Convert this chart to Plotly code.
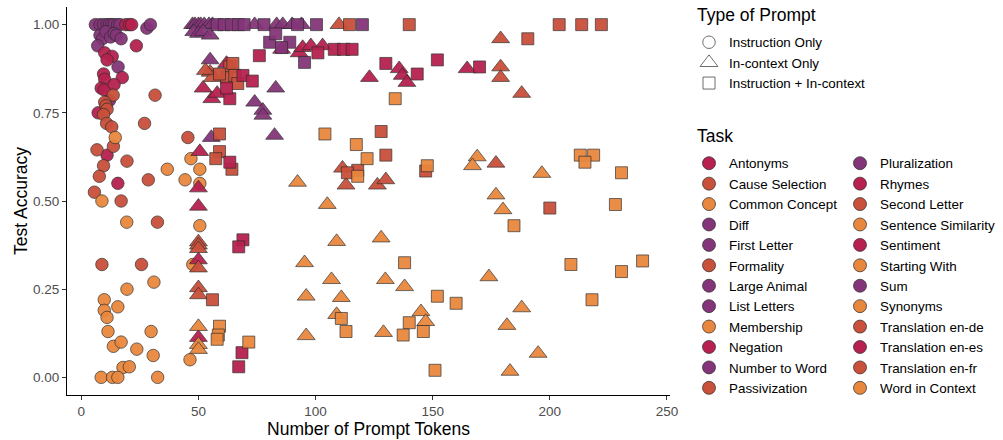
import plotly.graph_objects as go

# ---------------- data ----------------
task_names = ["Antonyms", "Cause Selection", "Common Concept", "Diff", "First Letter",
              "Formality", "Large Animal", "List Letters", "Membership", "Negation",
              "Number to Word", "Passivization", "Pluralization", "Rhymes", "Second Letter",
              "Sentence Similarity", "Sentiment", "Starting With", "Sum", "Synonyms",
              "Translation en-de", "Translation en-es", "Translation en-fr", "Word in Context"]

prompt_types = ["Instruction Only", "In-context Only", "Instruction + In-context"]

# Instruction Only
instr_tokens = [6, 8, 9.5, 11, 12, 13, 14, 15.5, 16.5, 28, 29.5,
                8, 9, 10.5, 12.5, 14, 15, 17, 7, 15.7, 12,
                19, 20.5, 21.5, 23.5, 10, 13.2, 11, 9.5, 17.5, 10, 8.5, 9.8, 14, 7.2, 11, 15.6,
                31.5, 13.6, 10, 10.5, 11, 9.5, 10.8, 13, 27, 13.7, 6.7, 9.5, 19.5, 7.7, 28.6, 5.6, 17, 8.8, 25.7, 32.5, 45.5,
                14.5, 36.7, 8.8, 19.4, 31, 19.5, 9.8, 9.8, 11, 15.6, 11.4, 29.8, 13.7, 17, 23.7, 30.7, 17.8, 20.5,
                8.5, 13.3, 15.6, 32.6, 46.4, 50.6, 50.6, 46.8, 44.3, 50.6, 47.6]
instr_acc = [1.00, 1.00, 1.00, 1.00, 1.00, 1.00, 1.00, 1.00, 1.00, 0.99, 1.00,
             0.97, 0.96, 0.98, 0.965, 0.975, 0.97, 0.96, 0.94, 0.88, 0.785,
             1.00, 1.00, 1.00, 0.94, 0.92, 0.91, 0.90, 0.86, 0.85, 0.845, 0.82, 0.815, 0.83, 0.75, 0.63, 0.55,
             0.80, 0.80, 0.78, 0.77, 0.76, 0.745, 0.72, 0.71, 0.72, 0.655, 0.645, 0.60, 0.613, 0.57, 0.56, 0.525, 0.50, 0.32, 0.32, 0.44, 0.68,
             0.68, 0.59, 0.50, 0.44, 0.27, 0.25, 0.22, 0.19, 0.17, 0.20, 0.13, 0.13, 0.088, 0.10, 0.08, 0.062, 0.028, 0.03,
             0.0, 0.0, 0.0, 0.0, 0.05, 0.59, 0.55, 0.62, 0.56, 0.43, 0.32]
instr_task = ["Diff", "First Letter", "Large Animal", "List Letters", "Number to Word", "Pluralization", "Sum", "Diff", "First Letter", "List Letters", "Large Animal",
              "Number to Word", "Pluralization", "Sum", "Diff", "First Letter", "Large Animal", "List Letters", "Number to Word", "Pluralization", "Sum",
              "Antonyms", "Negation", "Rhymes", "Sentiment", "Translation en-es", "Antonyms", "Negation", "Rhymes", "Sentiment", "Translation en-es", "Antonyms", "Negation", "Rhymes", "Sentiment", "Translation en-es", "Antonyms",
              "Cause Selection", "Formality", "Passivization", "Second Letter", "Translation en-de", "Translation en-fr", "Cause Selection", "Formality", "Passivization", "Second Letter", "Translation en-de", "Translation en-fr", "Cause Selection", "Formality", "Passivization", "Second Letter", "Translation en-de", "Translation en-fr", "Cause Selection", "Formality", "Passivization",
              "Common Concept", "Membership", "Sentence Similarity", "Starting With", "Synonyms", "Word in Context", "Common Concept", "Membership", "Sentence Similarity", "Starting With", "Synonyms", "Word in Context", "Common Concept", "Membership", "Sentence Similarity", "Starting With", "Synonyms", "Word in Context",
              "Common Concept", "Membership", "Sentence Similarity", "Starting With", "Synonyms", "Word in Context", "Common Concept", "Membership", "Sentence Similarity", "Starting With", "Synonyms"]

# In-context Only
ctx_tokens = [47.5, 48.5, 50, 51, 52.5, 54.5, 56, 48, 50, 52, 55, 74, 83.4, 86, 90, 94, 55, 83, 74, 77.5, 77.5, 82.5, 55.5,
              85.5, 93, 94.5, 98, 103, 123, 135.7, 137, 139, 164.7, 52, 55.7, 58, 62, 50.6, 50, 50, 50, 50,
              110, 179, 179, 179, 188, 55, 56, 53, 50, 50, 50, 50, 50, 50, 177, 111.5, 113, 126.4, 130,
              50, 50, 50, 92.3, 95.3, 105, 109, 106.8, 96, 111, 109, 96, 128, 129.8, 138, 129, 145, 147,
              180, 174, 188, 181.7, 195, 183, 169, 167, 196.6, 177]
ctx_acc = [1.0, 1.0, 1.0, 1.0, 1.0, 1.0, 1.0, 0.98, 0.975, 0.98, 0.97, 1.0, 1.0, 1.0, 1.0, 1.0, 0.90, 0.82, 0.78, 0.757, 0.743, 0.686, 0.68,
           0.93, 0.92, 0.935, 0.94, 0.94, 0.85, 0.875, 0.856, 0.836, 0.875, 0.82, 0.79, 0.805, 0.89, 0.64, 0.537, 0.485, 0.333, 0.113,
           1.0, 0.96, 0.88, 0.85, 0.805, 0.865, 0.85, 0.87, 0.384, 0.375, 0.365, 0.31, 0.254, 0.234, 0.607, 0.593, 0.545, 0.545, 0.56,
           0.144, 0.093, 0.079, 0.553, 0.325, 0.49, 0.385, 0.277, 0.23, 0.226, 0.178, 0.118, 0.395, 0.277, 0.257, 0.127, 0.186, 0.158,
           0.475, 0.285, 0.197, 0.147, 0.068, 0.017, 0.625, 0.60, 0.578, 0.517]
ctx_task = ["Diff", "First Letter", "Large Animal", "List Letters", "Number to Word", "Pluralization", "Sum", "Diff", "First Letter", "Large Animal", "List Letters", "Number to Word", "Pluralization", "Sum", "Diff", "First Letter", "Large Animal", "List Letters", "Number to Word", "Pluralization", "Sum", "Diff", "First Letter",
            "Antonyms", "Negation", "Rhymes", "Sentiment", "Translation en-es", "Antonyms", "Negation", "Rhymes", "Sentiment", "Translation en-es", "Antonyms", "Negation", "Rhymes", "Sentiment", "Translation en-es", "Antonyms", "Negation", "Rhymes", "Sentiment",
            "Cause Selection", "Formality", "Passivization", "Second Letter", "Translation en-de", "Translation en-fr", "Cause Selection", "Formality", "Passivization", "Second Letter", "Translation en-de", "Translation en-fr", "Cause Selection", "Formality", "Passivization", "Second Letter", "Translation en-de", "Translation en-fr", "Cause Selection",
            "Common Concept", "Membership", "Sentence Similarity", "Starting With", "Synonyms", "Word in Context", "Common Concept", "Membership", "Sentence Similarity", "Starting With", "Synonyms", "Word in Context", "Common Concept", "Membership", "Sentence Similarity", "Starting With", "Synonyms", "Word in Context",
            "Common Concept", "Membership", "Sentence Similarity", "Starting With", "Synonyms", "Word in Context", "Common Concept", "Membership", "Sentence Similarity", "Starting With"]

# Instruction + In-context
both_tokens = [58, 61, 64, 67, 69.5, 78, 92.3, 100.4, 120, 80.4, 89, 85.5, 95.3, 83,
               114.5, 140, 204, 213.6, 222, 190.6, 63.4, 64.7, 62, 65.5, 66.8, 59, 59, 59, 57.4, 64.3, 128, 130, 118, 113.6, 147, 200, 56,
               76, 101, 108, 112, 115.6, 130, 143.4, 152, 170, 69, 73, 63.4, 62, 63.4, 69, 67.2, 68.6, 67.2,
               134, 104, 117.4, 122, 118, 147.7, 213, 218.7, 215, 230.6, 228, 184.7, 209, 230.6, 239.6, 218, 152, 160,
               140, 146, 137.4, 151, 138, 111, 113, 59, 58.5, 58, 71.5]
both_acc = [1.0, 1.0, 1.0, 1.0, 1.0, 1.0, 1.0, 1.0, 1.0, 0.95, 0.95, 0.935, 0.893, 0.974,
            1.0, 1.0, 1.0, 1.0, 1.0, 0.96, 0.88, 0.89, 0.85, 0.856, 0.833, 0.86, 0.69, 0.64, 0.62, 0.59, 0.697, 0.63, 0.587, 0.58, 0.585, 0.48, 0.22,
            0.912, 0.92, 0.93, 0.93, 0.93, 0.89, 0.86, 0.90, 0.88, 0.856, 0.84, 0.79, 0.82, 0.61, 0.39, 0.37, 0.07, 0.03,
            0.79, 0.69, 0.66, 0.62, 0.57, 0.60, 0.63, 0.63, 0.61, 0.58, 0.49, 0.43, 0.32, 0.30, 0.33, 0.22, 0.23, 0.21,
            0.155, 0.13, 0.12, 0.02, 0.325, 0.167, 0.13, 0.145, 0.12, 0.108, 0.10]
both_task = ["Diff", "First Letter", "Large Animal", "List Letters", "Number to Word", "Pluralization", "Sum", "Diff", "First Letter", "Large Animal", "List Letters", "Number to Word", "Pluralization", "Sum",
             "Cause Selection", "Formality", "Passivization", "Second Letter", "Translation en-de", "Translation en-fr", "Cause Selection", "Formality", "Passivization", "Second Letter", "Translation en-de", "Translation en-fr", "Cause Selection", "Formality", "Passivization", "Second Letter", "Translation en-de", "Translation en-fr", "Cause Selection", "Formality", "Passivization", "Second Letter", "Translation en-de",
             "Antonyms", "Negation", "Rhymes", "Sentiment", "Translation en-es", "Antonyms", "Negation", "Rhymes", "Sentiment", "Translation en-es", "Antonyms", "Negation", "Rhymes", "Sentiment", "Translation en-es", "Antonyms", "Negation", "Rhymes",
             "Common Concept", "Membership", "Sentence Similarity", "Starting With", "Synonyms", "Word in Context", "Common Concept", "Membership", "Sentence Similarity", "Starting With", "Synonyms", "Word in Context", "Common Concept", "Membership", "Sentence Similarity", "Starting With", "Synonyms", "Word in Context",
             "Common Concept", "Membership", "Sentence Similarity", "Starting With", "Synonyms", "Word in Context", "Common Concept", "Membership", "Sentence Similarity", "Starting With", "Synonyms"]

# ---------------- styling ----------------
PURPLE, CRIMSON, REDOR, ORANGE = "#843579", "#B6214F", "#C9503A", "#E8873E"
task_color = {
    "Antonyms": CRIMSON, "Cause Selection": REDOR, "Common Concept": ORANGE, "Diff": PURPLE,
    "First Letter": PURPLE, "Formality": REDOR, "Large Animal": PURPLE, "List Letters": PURPLE,
    "Membership": ORANGE, "Negation": CRIMSON, "Number to Word": PURPLE, "Passivization": REDOR,
    "Pluralization": PURPLE, "Rhymes": CRIMSON, "Second Letter": REDOR, "Sentence Similarity": ORANGE,
    "Sentiment": CRIMSON, "Starting With": ORANGE, "Sum": PURPLE, "Synonyms": ORANGE,
    "Translation en-de": REDOR, "Translation en-es": CRIMSON, "Translation en-fr": REDOR,
    "Word in Context": ORANGE,
}
symbols = {"Instruction Only": "circle", "In-context Only": "triangle-up",
           "Instruction + In-context": "square"}
sizes = {"Instruction Only": 12.5, "In-context Only": 15.5, "Instruction + In-context": 12}

FONT = "Liberation Sans, Arial, sans-serif"

fig = go.Figure()

for ptype, xs, ys, ts in [("Instruction Only", instr_tokens, instr_acc, instr_task),
                          ("In-context Only", ctx_tokens, ctx_acc, ctx_task),
                          ("Instruction + In-context", both_tokens, both_acc, both_task)]:
    fig.add_trace(go.Scatter(
        x=xs, y=ys, mode="markers", showlegend=False, name=ptype, text=ts,
        marker=dict(symbol=symbols[ptype], size=sizes[ptype],
                    color=[task_color[t] for t in ts], opacity=0.95,
                    line=dict(color="#2b2b2b", width=0.7)),
        hovertemplate="%{text}<br>%{x}, %{y}<extra>" + ptype + "</extra>"))

# legend: type of prompt
for ptype in prompt_types:
    fig.add_trace(go.Scatter(
        x=[None], y=[None], mode="markers", name=ptype, legend="legend",
        marker=dict(symbol=symbols[ptype], size=min(sizes[ptype], 16), color="white",
                    line=dict(color="#6e6e6e", width=1))))

# legend: tasks, two columns
for i, t in enumerate(task_names):
    fig.add_trace(go.Scatter(
        x=[None], y=[None], mode="markers", name=t,
        legend="legend2" if i < 12 else "legend3",
        marker=dict(symbol="circle", size=13, color=task_color[t],
                    line=dict(color="#2b2b2b", width=0.7))))

axis_common = dict(showgrid=False, zeroline=False, showline=True, linecolor="black",
                   linewidth=1.1, ticks="outside", ticklen=4, tickwidth=1.1, tickcolor="#333333",
                   tickfont=dict(family=FONT, size=13.5, color="#4D4D4D"), automargin=False)

legend_common = dict(xref="container", yref="container", xanchor="left", yanchor="top",
                     font=dict(size=13.4, family=FONT), bgcolor="rgba(0,0,0,0)",
                     itemsizing="trace", tracegroupgap=0, maxheight=1)

fig.update_layout(
    width=1003, height=440,
    margin=dict(l=67, r=333, t=7, b=45, autoexpand=False),
    paper_bgcolor="white", plot_bgcolor="white",
    font=dict(family=FONT, color="black"),
    xaxis=dict(range=[-6.1, 251.3], tickvals=[0, 50, 100, 150, 200, 250],
               title=dict(text="Number of Prompt Tokens", font=dict(size=17.5, family=FONT), standoff=2),
               **axis_common),
    yaxis=dict(range=[-0.05, 1.05], tickvals=[0, 0.25, 0.5, 0.75, 1.0],
               ticktext=["0.00", "0.25", "0.50", "0.75", "1.00"],
               title=dict(text="Test Accuracy", font=dict(size=17.5, family=FONT), standoff=0),
               **axis_common),
    legend=dict(x=689 / 1003, y=1 - 27 / 440, **legend_common),
    legend2=dict(x=689 / 1003, y=1 - 148 / 440, **legend_common),
    legend3=dict(x=840 / 1003, y=1 - 148 / 440, **legend_common),
    annotations=[
        dict(text="Type of Prompt", xref="paper", yref="paper", x=(695 - 67) / 603,
             y=(395 - 15) / 388, xanchor="left", yanchor="middle", showarrow=False,
             font=dict(size=17.5, family=FONT, color="black")),
        dict(text="Task", xref="paper", yref="paper", x=(695 - 67) / 603,
             y=(395 - 136) / 388, xanchor="left", yanchor="middle", showarrow=False,
             font=dict(size=17.5, family=FONT, color="black")),
    ],
)

fig.write_html("out.html", config={"displayModeBar": False},
               post_script="document.body.style.margin='0px';")
